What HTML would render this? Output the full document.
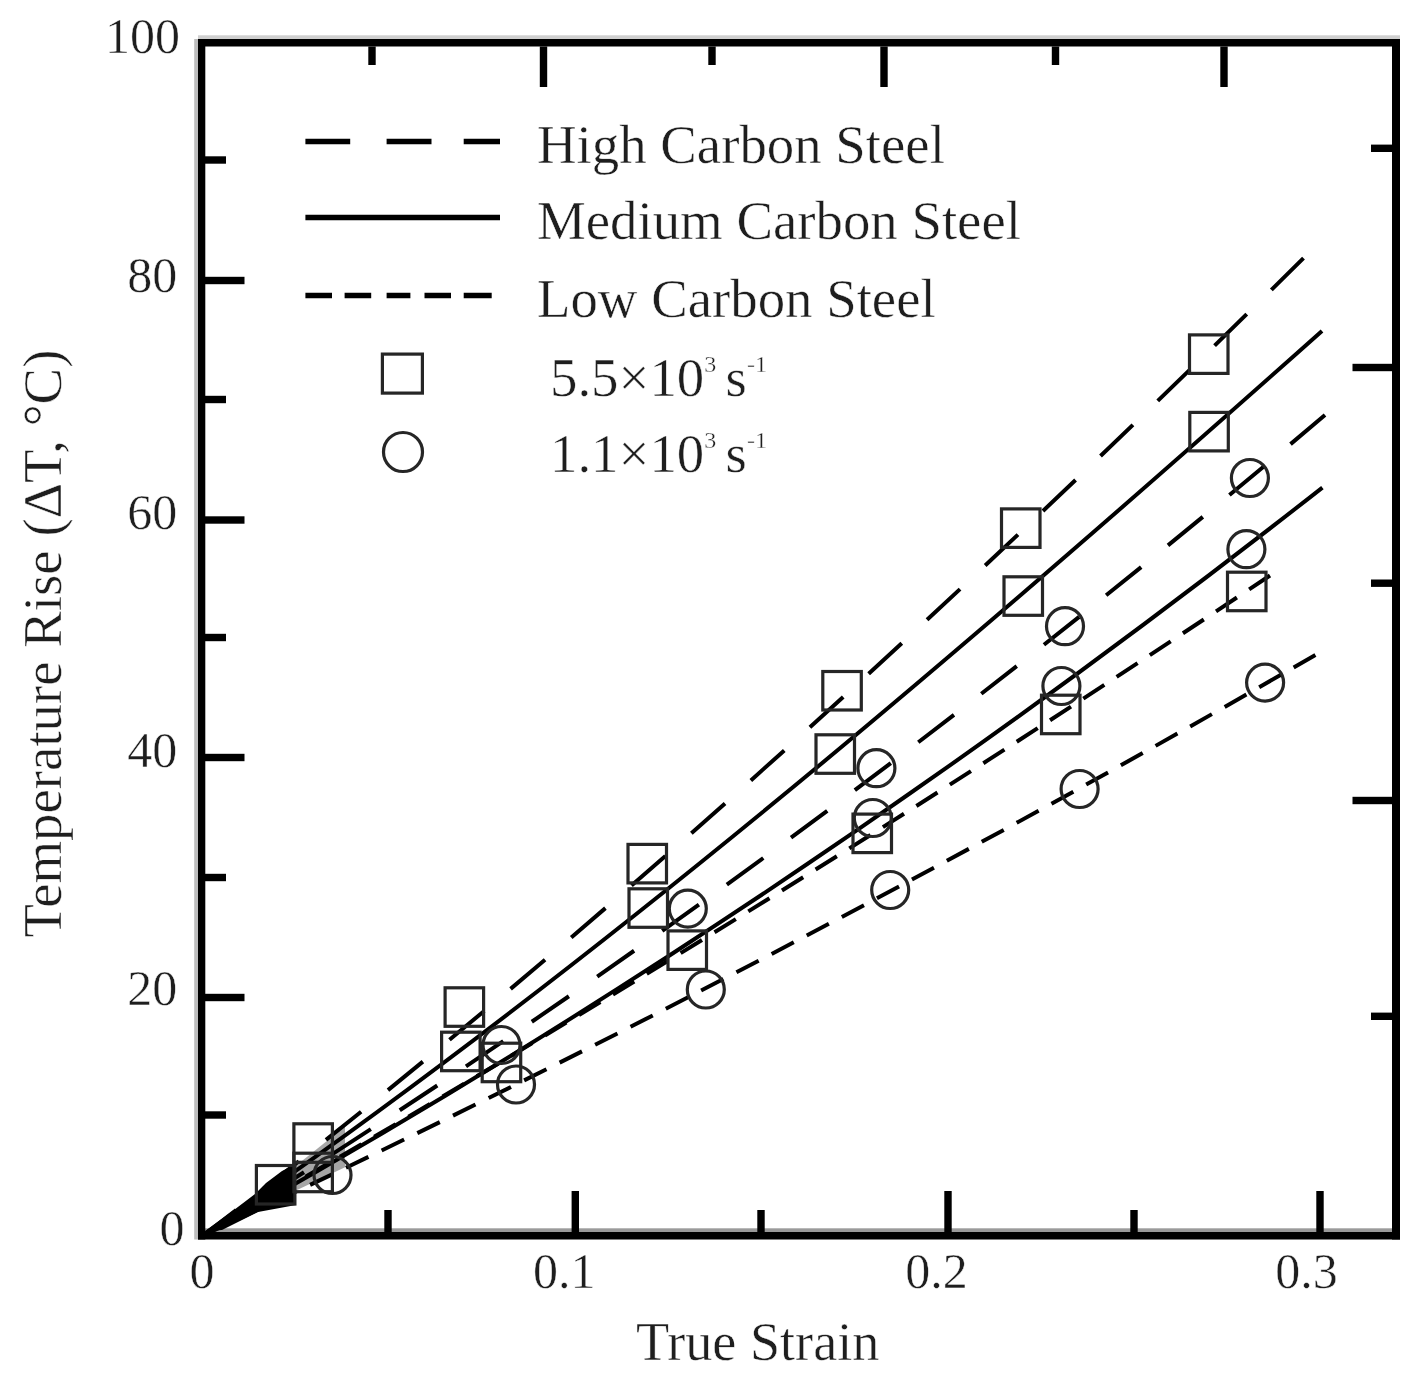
<!DOCTYPE html>
<html><head><meta charset="utf-8"><style>html,body{margin:0;padding:0;background:#fff;}svg{display:block;}</style></head><body>
<svg width="1428" height="1376" viewBox="0 0 1428 1376">
<rect width="1428" height="1376" fill="#fff"/>
<rect x="194.2" y="39" width="3.8" height="1200.5" fill="#bdbdbd"/>
<rect x="198" y="35.3" width="1202" height="3.7" fill="#cfcfcf"/>
<rect x="205" y="1228.3" width="1187" height="3.7" fill="#9a9a9a"/>
<g fill="#000">
<rect x="198" y="39" width="1202" height="7.5"/>
<rect x="198" y="1232" width="1202" height="7.5"/>
<rect x="198" y="39" width="7.3" height="1200.5"/>
<rect x="1392" y="39" width="8" height="1200.5"/>
<rect x="205" y="276.8" width="39.5" height="7.4"/>
<rect x="205" y="516.3" width="39.5" height="7.4"/>
<rect x="205" y="753.8" width="39.5" height="7.4"/>
<rect x="205" y="993.8" width="39.5" height="7.4"/>
<rect x="205" y="156.3" width="21" height="7.4"/>
<rect x="205" y="395.8" width="21" height="7.4"/>
<rect x="205" y="633.8" width="21" height="7.4"/>
<rect x="205" y="873.8" width="21" height="7.4"/>
<rect x="205" y="1111.3" width="21" height="7.4"/>
<rect x="571.6" y="1191" width="7.4" height="41"/>
<rect x="944.3" y="1191" width="7.4" height="41"/>
<rect x="1316.3" y="1191" width="7.4" height="41"/>
<rect x="384.3" y="1210" width="7.4" height="22"/>
<rect x="757.3" y="1210" width="7.4" height="22"/>
<rect x="1130.3" y="1210" width="7.4" height="22"/>
<rect x="539.8" y="46.5" width="7.4" height="40.5"/>
<rect x="880.3" y="46.5" width="7.4" height="40.5"/>
<rect x="1220.3" y="46.5" width="7.4" height="40.5"/>
<rect x="368.3" y="46.5" width="7.4" height="18.5"/>
<rect x="708.3" y="46.5" width="7.4" height="18.5"/>
<rect x="1051.8" y="46.5" width="7.4" height="18.5"/>
<rect x="1352.5" y="363.8" width="39.5" height="7.4"/>
<rect x="1352.5" y="796.8" width="39.5" height="7.4"/>
<rect x="1371" y="144.6" width="21" height="7.4"/>
<rect x="1371" y="579.5" width="21" height="7.4"/>
<rect x="1371" y="1012.6" width="21" height="7.4"/>
</g>
<g fill="none" stroke="#000" stroke-width="4.0">
<path d="M1303.50,258.11 C936.67,621.37 569.83,956.17 203.00,1235.50" stroke-dasharray="45 34.5"/>
<path d="M1322.00,330.97 C949.00,663.20 576.00,980.65 203.00,1235.50"/>
<path d="M1325.00,415.05 C951.00,731.47 577.00,1004.95 203.00,1235.50" stroke-dasharray="45 34.5"/>
<path d="M1322.40,487.58 C949.27,780.29 576.13,1029.60 203.00,1235.50"/>
<path d="M1270.00,575.47 C914.33,813.13 558.67,1033.14 203.00,1235.50" stroke-dasharray="25 14.7"/>
<path d="M1315.40,655.00 C944.60,868.75 573.80,1062.25 203.00,1235.50" stroke-dasharray="25 14.7"/>
</g>
<polygon points="205,1231 230,1213 255,1194 266,1183 282,1171 296,1164 296,1205 258,1212 222,1230" fill="#000"/>
<polygon points="296.0,1165.5 305.0,1158.4 315.0,1150.5 325.0,1142.6 335.0,1134.6 345.0,1126.7 345.0,1167.2 335.0,1172.0 325.0,1176.8 315.0,1181.6 305.0,1186.3 296.0,1190.6" fill="#000" fill-opacity="0.35"/>
<g fill="none" stroke="#262626" stroke-width="3.2">
<rect x="1189.5" y="334.9" width="38.5" height="38.5"/>
<rect x="1189.8" y="412.4" width="38.5" height="38.5"/>
<rect x="1227.5" y="572.2" width="38.5" height="38.5"/>
<rect x="1001.5" y="508.9" width="38.5" height="38.5"/>
<rect x="1004.0" y="576.8" width="38.5" height="38.5"/>
<rect x="1041.5" y="695.2" width="38.5" height="38.5"/>
<rect x="822.8" y="671.5" width="38.5" height="38.5"/>
<rect x="816.0" y="734.8" width="38.5" height="38.5"/>
<rect x="853.0" y="814.1" width="38.5" height="38.5"/>
<rect x="628.0" y="844.4" width="38.5" height="38.5"/>
<rect x="629.0" y="888.8" width="38.5" height="38.5"/>
<rect x="668.0" y="930.9" width="38.5" height="38.5"/>
<rect x="445.1" y="987.8" width="38.5" height="38.5"/>
<rect x="441.6" y="1032.2" width="38.5" height="38.5"/>
<rect x="482.2" y="1043.2" width="38.5" height="38.5"/>
<rect x="256.4" y="1165.5" width="38.5" height="38.5"/>
<rect x="293.9" y="1123.8" width="38.5" height="38.5"/>
<rect x="293.9" y="1153.2" width="38.5" height="38.5"/>
<circle cx="1249.9" cy="478" r="18.5"/>
<circle cx="1246.4" cy="549.2" r="18.5"/>
<circle cx="1265.1" cy="682.6" r="18.5"/>
<circle cx="1065" cy="626.2" r="18.5"/>
<circle cx="1061.4" cy="686" r="18.5"/>
<circle cx="1079.6" cy="789" r="18.5"/>
<circle cx="876.4" cy="768.2" r="18.5"/>
<circle cx="872.8" cy="818" r="18.5"/>
<circle cx="890.2" cy="890" r="18.5"/>
<circle cx="687.8" cy="908.6" r="18.5"/>
<circle cx="705.8" cy="989.5" r="18.5"/>
<circle cx="501.5" cy="1045" r="18.5"/>
<circle cx="516" cy="1084.5" r="18.5"/>
<circle cx="332.5" cy="1175" r="18.5"/>
</g>
<g stroke="#000" stroke-width="5.5">
<line x1="305.4" y1="141.5" x2="350.2" y2="141.5"/>
<line x1="386.6" y1="141.5" x2="431.5" y2="141.5"/>
<line x1="463.7" y1="141.5" x2="500" y2="141.5"/>
<line x1="305.4" y1="217.5" x2="500" y2="217.5"/>
<line x1="305.4" y1="295.5" x2="332" y2="295.5"/>
<line x1="344.6" y1="295.5" x2="371.2" y2="295.5"/>
<line x1="386.6" y1="295.5" x2="410.4" y2="295.5"/>
<line x1="424.5" y1="295.5" x2="451" y2="295.5"/>
<line x1="463.7" y1="295.5" x2="491.7" y2="295.5"/>
</g>
<rect x="382.4" y="354.1" width="40" height="39" fill="none" stroke="#262626" stroke-width="3.2"/>
<circle cx="403" cy="452" r="19.5" fill="none" stroke="#262626" stroke-width="3.2"/>
<g font-family="Liberation Serif, serif" fill="#1e1e1e" stroke="#fff" stroke-width="0.45">
<g font-size="50" text-anchor="end">
<text x="180" y="53.4">100</text>
<text x="177.3" y="291.6">80</text>
<text x="177.3" y="529.4">60</text>
<text x="177.3" y="767.2">40</text>
<text x="177.3" y="1005.2">20</text>
<text x="184.5" y="1244.6">0</text>
</g>
<g font-size="50" text-anchor="middle">
<text x="202" y="1288.3">0</text>
<text x="564.25" y="1288.3">0.1</text>
<text x="936.5" y="1288.3">0.2</text>
<text x="1306.6" y="1288.3">0.3</text>
</g>
<g font-size="54.8">
<text x="537" y="163">High Carbon Steel</text>
<text x="537" y="238.7">Medium Carbon Steel</text>
<text x="537" y="317">Low Carbon Steel</text>
<text x="550" y="396.3">5.5×10<tspan font-size="24" dy="-24" stroke-width="0.3">3</tspan><tspan dy="24" dx="-4.3"> s</tspan><tspan font-size="24" dy="-24" stroke-width="0.3">-1</tspan></text>
<text x="550" y="472.4">1.1×10<tspan font-size="24" dy="-24" stroke-width="0.3">3</tspan><tspan dy="24" dx="-4.3"> s</tspan><tspan font-size="24" dy="-24" stroke-width="0.3">-1</tspan></text>
<text x="636" y="1359.6" font-size="54.2">True Strain</text>
<text transform="translate(61,937.5) rotate(-90)" x="0" y="0">Temperature Rise (ΔT, °C)</text>
</g>
</g>
</svg>
</body></html>
